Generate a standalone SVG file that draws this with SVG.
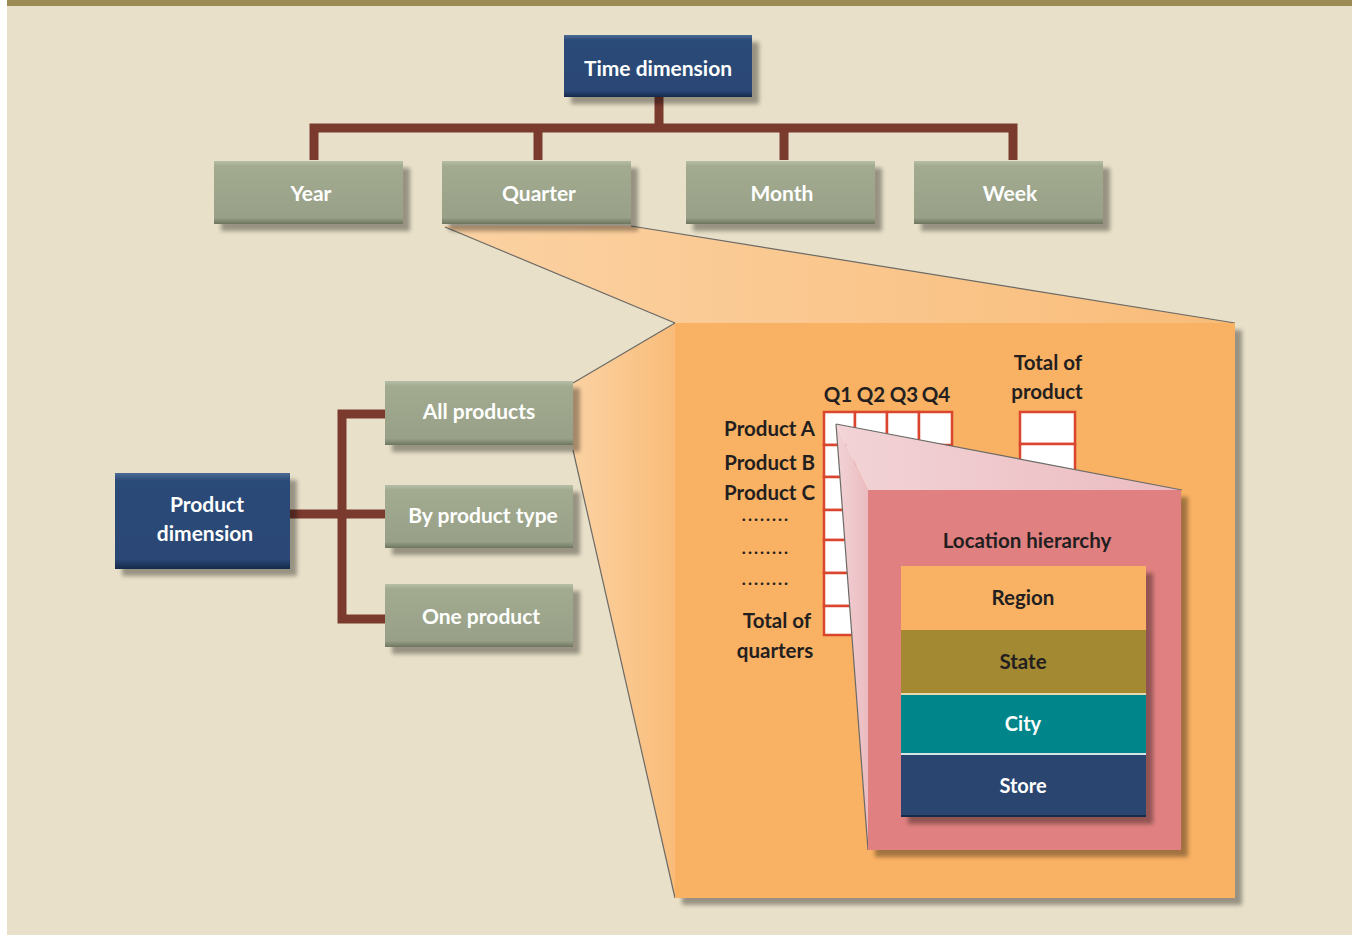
<svg xmlns="http://www.w3.org/2000/svg" width="1352" height="935" viewBox="0 0 1352 935">
<defs>
<style>
.t{font-family:Lato,"Open Sans","Liberation Sans",sans-serif;font-weight:bold;text-anchor:middle}
.w{fill:#ffffff;font-size:21px}
.d{fill:#231f20;font-size:20.5px}
.r{text-anchor:end}
.dots{font-size:17px;letter-spacing:2px}
.conn{stroke:#7a3a2e;stroke-width:9;fill:none;stroke-linejoin:miter;stroke-linecap:butt}
.cell{fill:#ffffff;stroke:#d9462d;stroke-width:2.5}
.funl{stroke:#6b6a66;stroke-width:1.2}
</style>
<linearGradient id="gG" x1="0" y1="0" x2="0" y2="1">
<stop offset="0" stop-color="#b7bea6"/><stop offset="0.08" stop-color="#a2ab8f"/><stop offset="0.9" stop-color="#98a188"/><stop offset="1" stop-color="#6d755f"/>
</linearGradient>
<linearGradient id="gB" x1="0" y1="0" x2="0" y2="1">
<stop offset="0" stop-color="#4c6a95"/><stop offset="0.08" stop-color="#2c4b78"/><stop offset="0.9" stop-color="#2a4674"/><stop offset="1" stop-color="#16294a"/>
</linearGradient>
<linearGradient id="gF" x1="0" y1="0" x2="1" y2="0">
<stop offset="0" stop-color="#fbd2a3"/><stop offset="1" stop-color="#f9bc79"/>
</linearGradient>
<linearGradient id="gP" x1="0" y1="0" x2="1" y2="0">
<stop offset="0" stop-color="#f2d3d6"/><stop offset="1" stop-color="#ebbcc1"/>
</linearGradient>
<filter id="sh" x="-10%" y="-10%" width="130%" height="130%">
<feGaussianBlur in="SourceAlpha" stdDeviation="2"/>
<feOffset dx="7" dy="7" result="o"/>
<feComponentTransfer><feFuncA type="linear" slope="0.35"/></feComponentTransfer>
<feMerge><feMergeNode/><feMergeNode in="SourceGraphic"/></feMerge>
</filter>
</defs>
<rect x="0" y="0" width="1352" height="935" fill="#ffffff"/>
<rect x="7" y="0" width="1345" height="935" fill="#e8e0c8"/>
<rect x="7" y="0" width="1345" height="6" fill="#9a8b55"/>

<!-- zoom funnels -->
<g id="funnels">
<polygon points="442,226 631,226 1235,323 675,323" fill="url(#gF)"/>
<polygon points="573,383 675,323 675,898 573,450" fill="url(#gF)"/>
<line class="funl" x1="445" y1="227" x2="675" y2="323"/>
<line class="funl" x1="631" y1="226" x2="1235" y2="323"/>
<line class="funl" x1="573" y1="383" x2="675" y2="323"/>
<line class="funl" x1="573" y1="450" x2="675" y2="898"/>
</g>

<!-- orange panel -->
<g id="panel">
<rect x="675" y="323" width="560" height="575" fill="#f9b163" filter="url(#sh)"/>
<text class="t d" x="1048" y="370">Total of</text>
<text class="t d" x="1047" y="399">product</text>
<text class="t d" x="838" y="402">Q1</text>
<text class="t d" x="871" y="402">Q2</text>
<text class="t d" x="904" y="402">Q3</text>
<text class="t d" x="936" y="402">Q4</text>
<g id="grid">
<rect class="cell" x="824" y="412" width="31" height="33"/>
<rect class="cell" x="855" y="412" width="32" height="33"/>
<rect class="cell" x="887" y="412" width="32" height="33"/>
<rect class="cell" x="919" y="412" width="33" height="33"/>
<rect class="cell" x="824" y="445" width="31" height="32"/>
<rect class="cell" x="824" y="477" width="31" height="33"/>
<rect class="cell" x="824" y="510" width="31" height="30"/>
<rect class="cell" x="824" y="540" width="31" height="33"/>
<rect class="cell" x="824" y="573" width="31" height="33"/>
<rect class="cell" x="824" y="606" width="31" height="29"/>
<rect class="cell" x="1020" y="412" width="55" height="32"/>
<rect class="cell" x="1020" y="444" width="55" height="32"/>
</g>
<text class="t d r" x="815" y="436">Product A</text>
<text class="t d r" x="815" y="470">Product B</text>
<text class="t d r" x="815" y="500">Product C</text>
<text class="t d dots" x="766" y="521">........</text>
<text class="t d dots" x="766" y="554">........</text>
<text class="t d dots" x="766" y="585">........</text>
<text class="t d" x="777" y="628">Total of</text>
<text class="t d" x="775" y="658">quarters</text>
</g>

<!-- pink zoom -->
<g id="location">
<polygon points="836,424 1182,490 868,490" fill="url(#gP)"/>
<polygon points="836,424 868,490 868,850" fill="url(#gP)"/>
<line class="funl" x1="836" y1="424" x2="1182" y2="490"/>
<line class="funl" x1="836" y1="424" x2="868" y2="850"/>
<rect x="868" y="490" width="313" height="360" fill="#e08080" filter="url(#sh)"/>
<text class="t d" x="1027" y="548">Location hierarchy</text>
<g filter="url(#sh)">
<rect x="901" y="566" width="245" height="64" fill="#f9b163"/>
<rect x="901" y="630" width="245" height="63" fill="#a38a33"/>
<rect x="901" y="693" width="245" height="2" fill="#e6d9b0"/>
<rect x="901" y="695" width="245" height="58" fill="#00868a"/>
<rect x="901" y="753" width="245" height="2" fill="#d9e4e6"/>
<rect x="901" y="755" width="245" height="62" fill="#2b4570"/>
<rect x="901" y="815" width="245" height="2" fill="#17294a"/>
</g>
<text class="t d" x="1023" y="605">Region</text>
<text class="t d" x="1023" y="669">State</text>
<text class="t w" x="1023" y="731" style="font-size:20px">City</text>
<text class="t w" x="1023" y="793" style="font-size:20px">Store</text>
</g>

<!-- connectors -->
<g id="connectors">
<path class="conn" d="M659,97 V128 M314,160 V128 H1013 V160 M538,128 V160 M784,128 V160"/>
<path class="conn" d="M290,514 H386 M386,414 H342 V619 H386"/>
</g>

<!-- time nodes -->
<g id="time-dimension"><rect x="564" y="35" width="188" height="62" fill="url(#gB)" filter="url(#sh)"/><text class="t w" x="658" y="76">Time dimension</text></g>
<g id="year"><rect x="214" y="161" width="189" height="63" fill="url(#gG)" filter="url(#sh)"/><text class="t w" x="311" y="201">Year</text></g>
<g id="quarter"><rect x="442" y="161" width="189" height="63" fill="url(#gG)" filter="url(#sh)"/><text class="t w" x="539" y="201">Quarter</text></g>
<g id="month"><rect x="686" y="161" width="189" height="63" fill="url(#gG)" filter="url(#sh)"/><text class="t w" x="782" y="201">Month</text></g>
<g id="week"><rect x="914" y="161" width="189" height="63" fill="url(#gG)" filter="url(#sh)"/><text class="t w" x="1010" y="201">Week</text></g>

<!-- product nodes -->
<g id="product-dimension"><rect x="115" y="473" width="175" height="96" fill="url(#gB)" filter="url(#sh)"/><text class="t w" x="207" y="512">Product</text><text class="t w" x="205" y="541">dimension</text></g>
<g id="all-products"><rect x="385" y="381" width="188" height="64" fill="url(#gG)" filter="url(#sh)"/><text class="t w" x="479" y="419">All products</text></g>
<g id="by-product-type"><rect x="385" y="485" width="188" height="63" fill="url(#gG)" filter="url(#sh)"/><text class="t w" x="483" y="523">By product type</text></g>
<g id="one-product"><rect x="385" y="584" width="188" height="63" fill="url(#gG)" filter="url(#sh)"/><text class="t w" x="481" y="624">One product</text></g>
</svg>
